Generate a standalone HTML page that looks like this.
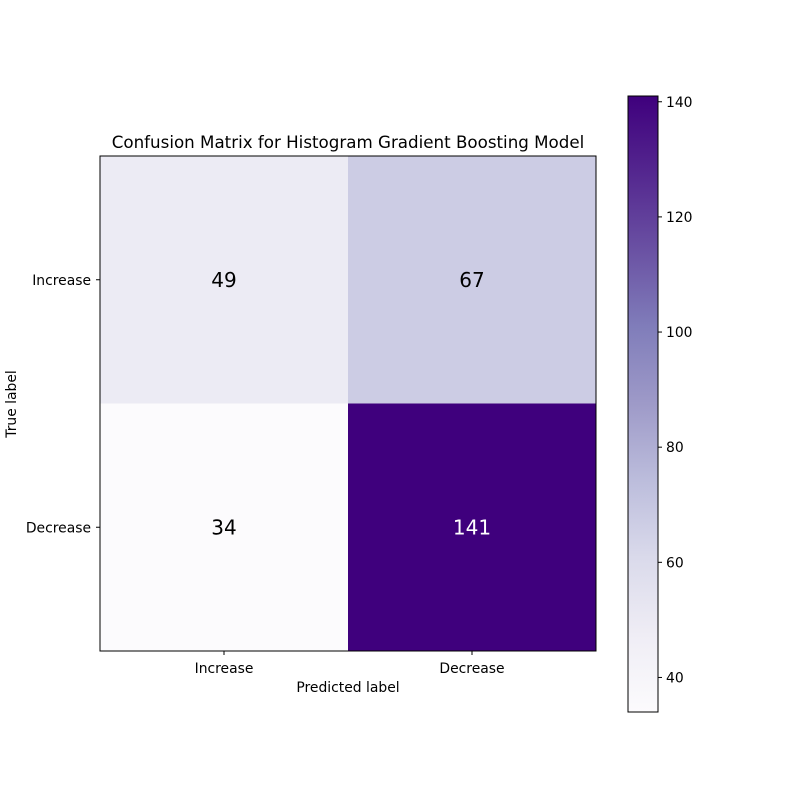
<!DOCTYPE html>
<html><head><meta charset="utf-8"><style>
body{margin:0;background:#fff;}
svg{display:block;font-family:"DejaVu Sans","Liberation Sans",sans-serif;}
</style></head><body>
<svg id="chart" width="800" height="800" viewBox="0 0 800 800">
<defs>
<linearGradient id="cbgrad" x1="0" y1="1" x2="0" y2="0">
<stop offset="0" stop-color="#fcfbfd"/><stop offset="0.125" stop-color="#efedf5"/>
<stop offset="0.25" stop-color="#dadaeb"/><stop offset="0.375" stop-color="#bcbddc"/>
<stop offset="0.5" stop-color="#9e9ac8"/><stop offset="0.625" stop-color="#807dba"/>
<stop offset="0.75" stop-color="#6a51a3"/><stop offset="0.875" stop-color="#54278f"/>
<stop offset="1" stop-color="#3f007d"/>
</linearGradient>
</defs>
<g id="cells"></g>
<rect x="100" y="156" width="496" height="495" fill="none" stroke="#000" stroke-width="1"/>
<text x="348" y="148" text-anchor="middle" font-size="16.7">Confusion Matrix for Histogram Gradient Boosting Model</text>
<text x="348" y="692" text-anchor="middle" font-size="13.9">Predicted label</text>
<text x="16" y="404" text-anchor="middle" font-size="13.9" transform="rotate(-90 16 404)">True label</text>
<g id="ticks"></g>
<rect x="628" y="96" width="30" height="616" fill="url(#cbgrad)" stroke="#000" stroke-width="1"/>
<g id="cbticks"></g>
</svg>
<script>
const classes = ["Increase","Decrease"];
const matrix = [[49,67],[34,141]];
const cbTicks = [40,60,80,100,120,140];
const vmin = 34, vmax = 141;
const stops = ["#fcfbfd","#efedf5","#dadaeb","#bcbddc","#9e9ac8","#807dba","#6a51a3","#54278f","#3f007d"];
function hex(c){return [1,3,5].map(i=>parseInt(c.substr(i,2),16));}
function cmap(v){
  let t=(v-vmin)/(vmax-vmin);t=Math.max(0,Math.min(1,t));
  const p=t*(stops.length-1),i=Math.min(Math.floor(p),stops.length-2),f=p-i;
  const a=hex(stops[i]),b=hex(stops[i+1]);
  return "rgb("+a.map((x,k)=>Math.round(x+(b[k]-x)*f)).join(",")+")";
}
const X0=100,Y0=156,W=496,H=495,n=classes.length;
const xs=i=>X0+W*i/n, ys=i=>Y0+H*i/n;
const NS="http://www.w3.org/2000/svg";
function mk(tag,attrs,parent){const e=document.createElementNS(NS,tag);for(const k in attrs)e.setAttribute(k,attrs[k]);parent.appendChild(e);return e;}
const cells=document.getElementById("cells");
const thresh=(vmax+vmin)/2;
for(let r=0;r<n;r++)for(let c=0;c<n;c++){
  const v=matrix[r][c];
  const rect=mk("rect",{x:xs(c),y:ys(r),width:W/n,height:H/n,fill:cmap(v)},cells);
  
  
  const t=mk("text",{x:xs(c)+W/n/2,y:ys(r)+H/n/2+7,"text-anchor":"middle","font-size":"20",fill:v>thresh?"#fff":"#000"},cells);
  t.textContent=v;
  
  
}
const tk=document.getElementById("ticks");
classes.forEach((c,i)=>{
  const cx=xs(i)+W/n/2, cy=ys(i)+H/n/2;
  mk("line",{x1:cx,x2:cx,y1:651,y2:655,stroke:"#000"},tk);
  const tx=mk("text",{x:cx,y:673,"text-anchor":"middle","font-size":"13.9"},tk);tx.textContent=c;
  
  
  mk("line",{x1:96,x2:100,y1:cy,y2:cy,stroke:"#000"},tk);
  const ty=mk("text",{x:91,y:cy+5,"text-anchor":"end","font-size":"13.9"},tk);ty.textContent=c;
  
  
});
const cb=document.getElementById("cbticks");
const cy0=96,cy1=712;
const cbY=v=>cy1-(v-vmin)/(vmax-vmin)*(cy1-cy0);
cbTicks.forEach(v=>{
  const y=cbY(v);
  mk("line",{x1:658,x2:662,y1:y,y2:y,stroke:"#000"},cb);
  const t=mk("text",{x:666,y:y+5,"font-size":"13.9"},cb);t.textContent=v;
  
  
});
</script>
</body></html>
